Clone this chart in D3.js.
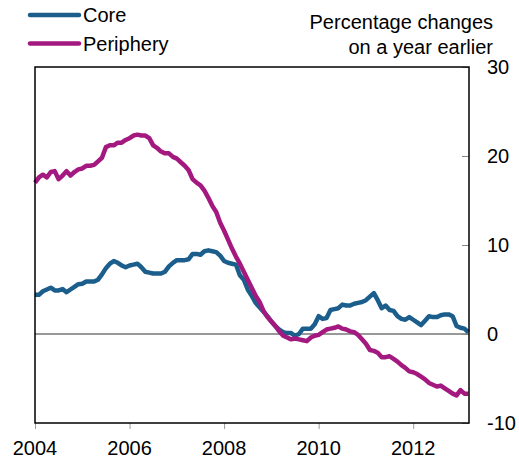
<!DOCTYPE html>
<html><head><meta charset="utf-8">
<script src="https://cdn.jsdelivr.net/npm/d3@7"></script>
<style>
body{margin:0;background:#fff;}
svg text{font-family:"Liberation Sans",Arial,sans-serif;fill:#000;}
</style></head>
<body><svg id="c" width="519" height="461"></svg>
<script>
// Monthly data, Jan 2004 .. Mar 2013
const startYear = 2004;
const core = [4.4,4.4,4.8,5.0,5.2,4.9,4.9,5.05,4.7,5.0,5.3,5.6,
5.65,5.9,5.9,5.9,6.1,6.7,7.4,7.9,8.2,8.0,7.7,7.5,
7.7,7.8,7.9,7.5,7.0,6.9,6.8,6.8,6.8,7.0,7.6,8.0,
8.3,8.3,8.3,8.4,9.0,9.0,8.9,9.3,9.4,9.3,9.2,8.8,
8.2,8.0,7.9,7.8,6.6,6.1,5.0,4.3,3.5,3.0,2.5,2.0,
1.4,0.9,0.5,0.2,0.1,0.1,-0.2,0.0,0.6,0.6,0.6,1.1,
2.0,1.7,1.8,2.7,2.8,2.9,3.3,3.2,3.2,3.4,3.5,3.6,
3.8,4.2,4.6,3.8,2.9,3.2,2.7,2.6,2.0,1.7,1.6,1.9,
1.6,1.3,1.0,1.5,2.0,1.9,1.9,2.1,2.2,2.2,2.0,0.9,
0.7,0.6,0.2];
const periphery = [17.0,17.6,17.9,17.6,18.2,18.3,17.4,17.8,18.3,17.8,18.2,18.5,
18.6,18.9,18.9,19.0,19.4,19.8,21.0,21.2,21.2,21.5,21.5,21.8,
22.0,22.3,22.4,22.3,22.3,22.0,21.2,20.9,20.5,20.3,20.3,19.9,
19.7,19.3,18.9,18.4,17.4,17.0,16.7,16.1,15.3,14.4,13.7,12.5,
11.6,10.6,9.6,8.7,7.9,7.0,6.1,5.2,4.3,3.6,2.6,1.9,
1.4,0.9,0.3,-0.2,-0.4,-0.6,-0.5,-0.6,-0.7,-0.8,-0.4,-0.2,
-0.1,0.2,0.5,0.6,0.7,0.85,0.6,0.5,0.3,0.2,-0.1,-0.6,
-1.1,-1.8,-1.9,-2.1,-2.6,-2.6,-2.5,-2.8,-3.1,-3.5,-3.8,-4.2,
-4.3,-4.5,-4.8,-5.1,-5.5,-5.7,-5.9,-5.8,-6.1,-6.4,-6.7,-6.9,
-6.3,-6.7,-6.7];
const xTicks = [2004,2006,2008,2010,2012];
const yTicks = [-10,0,10,20,30];
const seriesNames = ["Core","Periphery"];
const colors = ["#1b5e8c","#a3197f"];

const svg = d3.select("#c");
const L=35, R=469, T=67, B=423;
const x = d3.scaleLinear().domain([2004, 2013.18]).range([L, R]);
const y = d3.scaleLinear().domain([-10, 30]).range([B, T]);

// zero line
svg.append("line").attr("x1",L).attr("x2",R).attr("y1",y(0)).attr("y2",y(0))
  .attr("stroke","#333").attr("stroke-width",1);

// y axis on right, ticks inward
const yAx = svg.append("g").attr("transform",`translate(${R},0)`)
  .call(d3.axisLeft(y).tickValues(yTicks).tickSize(7).tickFormat(""));
yAx.select(".domain").remove();
yAx.selectAll(".tick line").attr("stroke","#888");
yTicks.forEach(v=>{
  svg.append("text").attr("x",487).attr("y",y(v)).attr("dy","0.36em")
    .attr("font-size",20).text(v);
});

// x axis ticks outward
const xAx = svg.append("g").attr("transform",`translate(0,${B})`)
  .call(d3.axisBottom(x).tickValues(xTicks).tickSize(6).tickFormat(""));
xAx.select(".domain").remove();
xAx.selectAll(".tick line").attr("stroke","#999");
xTicks.forEach(v=>{
  svg.append("text").attr("x",x(v)).attr("y",455).attr("text-anchor","middle")
    .attr("font-size",20).text(v);
});

// lines
const line = d3.line().x((d,i)=>x(startYear+i/12)).y(d=>y(d));
[core, periphery].forEach((s,k)=>{
  svg.append("path").datum(s).attr("d",line).attr("fill","none")
    .attr("stroke",colors[k]).attr("stroke-width",4.5)
    .attr("stroke-linejoin","round").attr("stroke-linecap","butt");
});

// frame
svg.append("rect").attr("x",L).attr("y",T).attr("width",R-L).attr("height",B-T)
  .attr("fill","none").attr("stroke","#000").attr("stroke-width",1.5);

// legend
seriesNames.forEach((n,k)=>{
  const yy = 15 + k*28.5;
  svg.append("line").attr("x1",30).attr("x2",79).attr("y1",yy).attr("y2",yy)
    .attr("stroke",colors[k]).attr("stroke-width",4.5).attr("stroke-linecap","round");
  svg.append("text").attr("x",83).attr("y",yy+7).attr("font-size",20).text(n);
});

// units
svg.append("text").attr("x",493).attr("y",29).attr("text-anchor","end")
  .attr("font-size",20).text("Percentage changes");
svg.append("text").attr("x",493).attr("y",53.5).attr("text-anchor","end")
  .attr("font-size",20).text("on a year earlier");
</script></body></html>
